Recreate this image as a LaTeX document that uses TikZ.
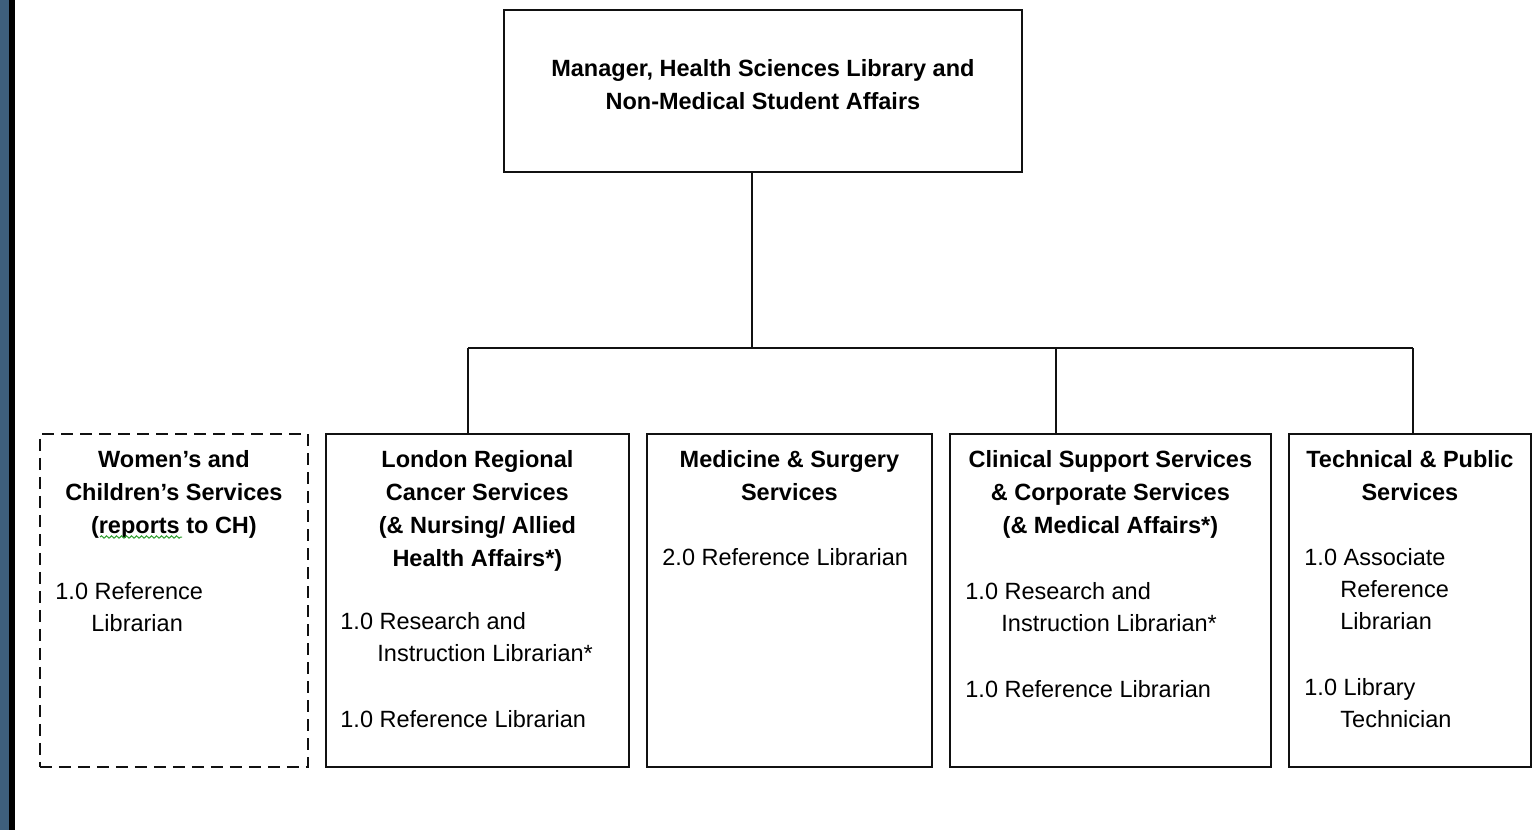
\documentclass[tikz,border=0pt]{standalone}
\usepackage{fontspec}
\setmainfont{Liberation Sans}
\usetikzlibrary{positioning,decorations.pathmorphing}
\definecolor{ink}{HTML}{111111}
\definecolor{slate}{HTML}{3E5F7C}
\definecolor{spell}{HTML}{2E9E2E}

\begin{document}
\begin{tikzpicture}[x=0.5pt,y=-0.5pt,font=\fontsize{11.75}{16.5}\selectfont,
  unit/.style={draw=ink,line width=0.9pt,anchor=north west,inner sep=0pt,minimum height=166.5pt},
  head/.style={font=\fontsize{11.75}{16.5}\selectfont\bfseries,align=center,inner sep=0pt},
  duty/.style={font=\fontsize{11.75}{16}\selectfont,align=left,inner sep=0pt},
  wire/.style={draw=ink,line width=0.9pt}]

  \useasboundingbox (0,0) rectangle (1540,830);
  % page edge
  \fill[slate] (0,0) rectangle (9,830);
  \fill[black] (9,0) rectangle (15,830);

  % manager
  \node[unit,minimum width=259pt,minimum height=81pt] (mgr) at (503,9) {};
  \node[head,below=25pt of mgr.north] (mgrT)
    {Manager, Health Sciences Library and\\Non-Medical Student Affairs};

  % service groups
  \node[unit,dashed,dash pattern=on 6pt off 3.5pt,minimum width=134pt] (wcs) at (39,433) {};
  \node[unit,minimum width=151.5pt] (lrcs)  at (325,433) {};
  \node[unit,minimum width=142.5pt] (msurg) at (646,433) {};
  \node[unit,minimum width=160.5pt] (csps)  at (949,433) {};
  \node[unit,minimum width=121pt]   (tps)   at (1288,433) {};

  \node[head,below=8.5pt of wcs.north] (wcsT)
    {Women's and\\Children's Services\\(reports to CH)};
  \node[head,below=8.5pt of lrcs.north] (lrcsT)
    {London Regional\\Cancer Services\\(\& Nursing/ Allied\\Health Affairs*)};
  \node[head,below=8.5pt of msurg.north] (msurgT)
    {Medicine \& Surgery\\Services};
  \node[head,below=8.5pt of csps.north] (cspsT)
    {Clinical Support Services\\\& Corporate Services\\(\& Medical Affairs*)};
  \node[head,below=8.5pt of tps.north] (tpsT)
    {Technical \& Public\\Services};

  % staff in each group
  \node[duty,below right=74.5pt and 8pt of wcs.north west] (wcsB)
    {1.0 Reference\\\hspace*{18pt}Librarian};
  \node[duty,below right=89.5pt and 7.5pt of lrcs.north west] (lrcsB)
    {1.0 Research and\\\hspace*{18.5pt}Instruction Librarian*\\[17pt]1.0 Reference Librarian};
  \node[duty,below right=57.5pt and 8pt of msurg.north west] (msurgB)
    {2.0 Reference Librarian};
  \node[duty,below right=74.5pt and 8pt of csps.north west] (cspsB)
    {1.0 Research and\\\hspace*{18pt}Instruction Librarian*\\[17pt]1.0 Reference Librarian};
  \node[duty,below right=57.5pt and 8pt of tps.north west] (tpsB)
    {1.0 Associate\\\hspace*{18pt}Reference\\\hspace*{18pt}Librarian\\[17pt]1.0 Library\\\hspace*{18pt}Technician};

  % spell-check mark
  \draw[spell,line width=0.5pt,decorate,decoration={snake,amplitude=0.6pt,segment length=2.5pt}]
    (100,537) -- (182,537);

  % reporting lines
  \coordinate (hub) at (752,348);
  \coordinate (jl) at (468,348);
  \coordinate (jc) at (1056,348);
  \coordinate (jt) at (1413,348);
  \draw[wire] (mgr.south -| hub) -- (hub);
  \draw[wire] (jl) -- (jt);
  \foreach \j/\u in {jl/lrcs,jc/csps,jt/tps}
    \draw[wire] (\j) -- (\j |- \u.north);
\end{tikzpicture}
\end{document}
